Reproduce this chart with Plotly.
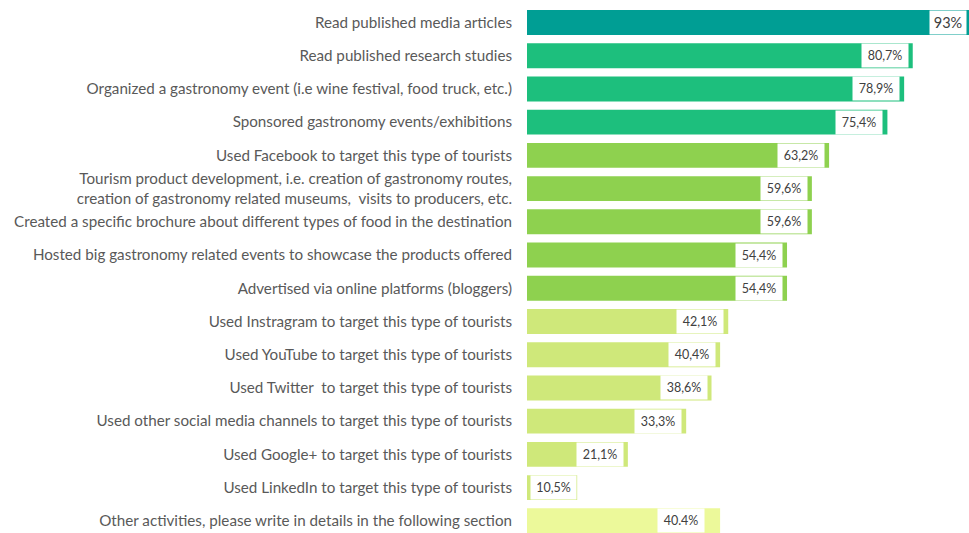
import plotly.graph_objects as go

categories = [
    "Read published media articles",
    "Read published research studies",
    "Organized a gastronomy event (i.e wine festival, food truck, etc.)",
    "Sponsored gastronomy events/exhibitions",
    "Used Facebook to target this type of tourists",
    "Tourism product development, i.e. creation of gastronomy routes,<br>creation of gastronomy related museums,  visits to producers, etc.",
    "Created a specific brochure about different types of food in the destination",
    "Hosted big gastronomy related events to showcase the products offered",
    "Advertised via online platforms (bloggers)",
    "Used Instragram to target this type of tourists",
    "Used YouTube to target this type of tourists",
    "Used Twitter  to target this type of tourists",
    "Used other social media channels to target this type of tourists",
    "Used Google+ to target this type of tourists",
    "Used LinkedIn to target this type of tourists",
    "Other activities, please write in details in the following section",
]
values = [93, 80.7, 78.9, 75.4, 63.2, 59.6, 59.6, 54.4, 54.4, 42.1, 40.4, 38.6, 33.3, 21.1, 10.5, 40.4]
value_labels = ["93%", "80,7%", "78,9%", "75,4%", "63,2%", "59,6%", "59,6%", "54,4%", "54,4%",
                "42,1%", "40,4%", "38,6%", "33,3%", "21,1%", "10,5%", "40.4%"]
colors = ["#009e94"] + ["#1dbf7d"] * 3 + ["#8ed14f"] * 5 + ["#cfe87a"] * 6 + ["#ecf99a"]
label_shift = [-5, -4, -4, -4, -4, -4, -4, -4, -4, -4, -4, -4, -4, -4, 0, -15]
label_width = [34, 44, 44, 44, 44, 44, 44, 44, 44, 44, 44, 44, 44, 44, 43, 44]
label_size = [14.5] + [12.5] * 15

X_MAX = 92.47
PX_PER_UNIT = 442 / X_MAX

positions = list(range(len(categories)))

fig = go.Figure()
fig.add_trace(go.Bar(
    x=values, y=positions, orientation="h",
    marker=dict(color=colors, line=dict(width=0)),
    width=0.75, hoverinfo="skip",
))

for p, v, t, s, w, fs in zip(positions, values, value_labels, label_shift, label_width, label_size):
    ax = min(v, X_MAX - 0.01)
    shift = s + (v - ax) * PX_PER_UNIT
    fig.add_annotation(
        x=ax, y=p, xref="x", yref="y", text=t, showarrow=False,
        xanchor="right", yanchor="middle", xshift=shift,
        bgcolor="white", width=w, height=21, borderpad=1, align="center",
        font=dict(family="Lato, Open Sans, sans-serif", size=fs, color="#404040"),
    )

fig.update_layout(
    width=969, height=533, autosize=False,
    margin=dict(l=527, r=0, t=0, b=0),
    paper_bgcolor="white", plot_bgcolor="white",
    showlegend=False,
    xaxis=dict(range=[0, X_MAX], visible=False, fixedrange=True),
    yaxis=dict(
        range=[15.367, -0.677],
        tickvals=positions, ticktext=categories,
        showgrid=False, zeroline=False, showline=False, ticks="",
        ticklabelstandoff=14,
        tickfont=dict(family="Lato, Open Sans, sans-serif", size=15.2, color="#595959"),
    ),
)

fig.write_html("out.html")
